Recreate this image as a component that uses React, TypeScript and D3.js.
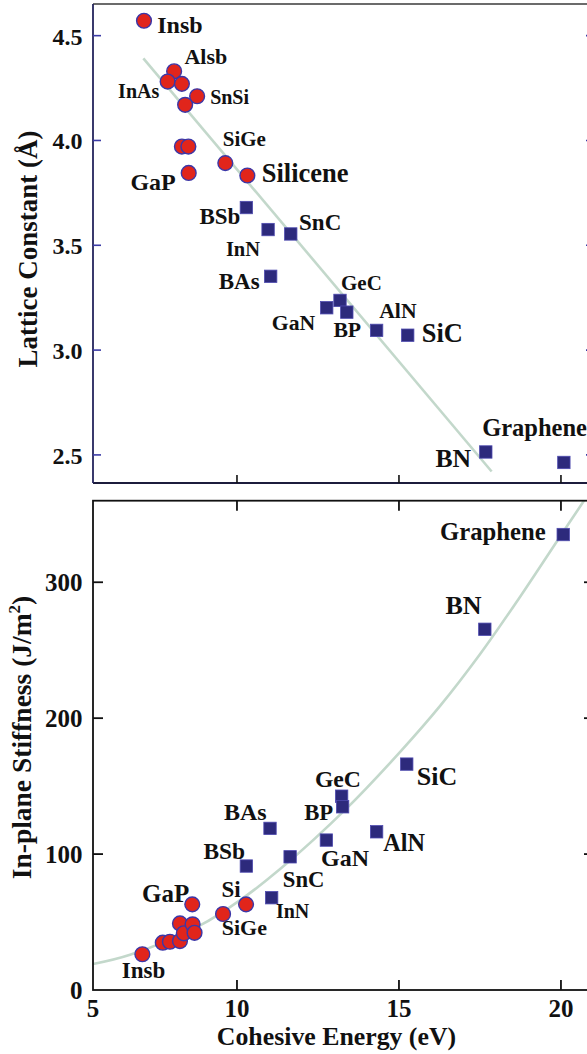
import React from "react";
import * as d3 from "d3";

// ---- data: 2D honeycomb materials ----
// Lattice constant panel (circles = buckled, squares = planar)
const topCircleNames = ["Insb", "Alsb", "InAs", "", "SnSi", "", "", "", "GaP", "SiGe", "Silicene"];
const topCircleEnergy = [7.13, 8.06, 7.86, 8.3, 8.77, 8.4, 8.3, 8.5, 8.51, 9.64, 10.32];
const topCircleLattice = [4.571, 4.33, 4.281, 4.27, 4.211, 4.17, 3.971, 3.971, 3.845, 3.892, 3.833];

const topSquareNames = ["BSb", "InN", "SnC", "BAs", "GaN", "GeC", "BP", "AlN", "SiC", "BN", "Graphene"];
const topSquareEnergy = [10.29, 10.96, 11.66, 11.04, 12.77, 13.18, 13.39, 14.31, 15.27, 17.68, 20.09];
const topSquareLattice = [3.68, 3.575, 3.554, 3.352, 3.202, 3.237, 3.181, 3.094, 3.071, 2.514, 2.464];

// linear fit of lattice constant vs cohesive energy
const latticeFitEnergy = [7.11, 17.86];
const latticeFitValue = [4.392, 2.421];

// In-plane stiffness panel
const botCircleNames = ["Insb", "", "", "", "", "", "GaP", "", "", "SiGe", "Si"];
const botCircleEnergy = [7.08, 7.71, 7.93, 8.24, 8.24, 8.36, 8.62, 8.63, 8.69, 9.57, 10.28];
const botCircleStiffness = [26.3, 34.8, 35.5, 49.0, 36.0, 41.7, 63.0, 48.3, 42.1, 55.9, 63.0];

const botSquareNames = ["BAs", "BSb", "SnC", "InN", "GaN", "GeC", "BP", "AlN", "SiC", "BN", "Graphene"];
const botSquareEnergy = [11.02, 10.29, 11.64, 11.07, 12.76, 13.23, 13.26, 14.31, 15.24, 17.65, 20.07];
const botSquareStiffness = [118.9, 91.2, 98.0, 67.9, 110.3, 142.6, 134.8, 116.4, 166.2, 265.4, 335.1];

// fitted trend of stiffness vs cohesive energy
const stiffFitEnergy = [5.56, 6.7, 8.86, 10.09, 11.36, 13.4, 15.03, 16.27, 17.5, 18.73, 19.97, 20.74];
const stiffFitValue = [19.1, 25.9, 47.5, 66, 89.5, 134, 175, 209, 247, 289, 333.5, 361];

// axis ticks
const energyTicks = [5, 10, 15, 20];
const latticeTicks = [2.5, 3.0, 3.5, 4.0, 4.5];
const stiffTicks = [0, 100, 200, 300];

// ---- label layout (offsets from the marker, font size) ----
type LabelPos = { dx: number; dy: number; size: number; anchor?: string };
const topLabelLayout: Record<string, LabelPos> = {
  Insb: { dx: 13.3, dy: 12.6, size: 24 },
  Alsb: { dx: 10.3, dy: -7, size: 22 },
  InAs: { dx: -8.4, dy: 16.6, size: 20, anchor: "end" },
  SnSi: { dx: 13, dy: 7.7, size: 20 },
  SiGe: { dx: -2.6, dy: -17.3, size: 21 },
  GaP: { dx: -13, dy: 16.7, size: 24, anchor: "end" },
  Silicene: { dx: 14.4, dy: 6.3, size: 26.5 },
  BSb: { dx: -6, dy: 16.3, size: 23, anchor: "end" },
  InN: { dx: -8, dy: 26, size: 20.5, anchor: "end" },
  SnC: { dx: 8.3, dy: -4.3, size: 23 },
  BAs: { dx: -11, dy: 12.3, size: 23, anchor: "end" },
  GaN: { dx: -11.5, dy: 22.7, size: 21.7, anchor: "end" },
  GeC: { dx: 1, dy: -10, size: 21 },
  BP: { dx: -13.4, dy: 24.6, size: 21.7 },
  AlN: { dx: 2.6, dy: -12, size: 21.7 },
  SiC: { dx: 14, dy: 7, size: 26.4 },
  BN: { dx: -14.7, dy: 14.6, size: 25.7, anchor: "end" },
  Graphene: { dx: -81.7, dy: -26, size: 24.5 },
};
const botLabelLayout: Record<string, LabelPos> = {
  Insb: { dx: -20.6, dy: 24, size: 23 },
  GaP: { dx: -3, dy: -2.6, size: 25, anchor: "end" },
  Si: { dx: -5.3, dy: -7, size: 23, anchor: "end" },
  SiGe: { dx: -1.3, dy: 21, size: 22 },
  BSb: { dx: -1.3, dy: -6.7, size: 23.4, anchor: "end" },
  BAs: { dx: -3.3, dy: -8.3, size: 24, anchor: "end" },
  InN: { dx: 4.3, dy: 20.6, size: 20 },
  SnC: { dx: -7.3, dy: 30, size: 22.7 },
  GaN: { dx: -5.3, dy: 26, size: 24 },
  GeC: { dx: -26.7, dy: -9.3, size: 23.7 },
  BP: { dx: -9.4, dy: 13.3, size: 22.7, anchor: "end" },
  AlN: { dx: 6.6, dy: 19.3, size: 24.2 },
  SiC: { dx: 10, dy: 21, size: 26 },
  BN: { dx: -39.3, dy: -15.7, size: 26 },
  Graphene: { dx: -17.6, dy: 5.7, size: 24.7, anchor: "end" },
};

// ---- geometry ----
const W = 587;
const H = 1054;
const LEFT = 93;
const RIGHT = 594;
const TOP_Y0 = 4;
const TOP_Y1 = 483;
const BOT_Y0 = 500.7;
const BOT_Y1 = 990;

const FONT = "'Liberation Serif', 'Times New Roman', Times, serif";
const RED = "#e1251b";
const RING = "#3b37a8";
const NAVY = "#2d2a7c";
const FIT = "#c3d8cb";

const x = d3.scaleLinear().domain([5.556, 21.02]).range([LEFT, RIGHT]).clamp(true);
const yTop = d3.scaleLinear().domain([2.366, 4.651]).range([TOP_Y1, TOP_Y0]);
const yBot = d3.scaleLinear().domain([0, 360]).range([BOT_Y1, BOT_Y0]);

function Labels({
  names,
  xs,
  ys,
  layout,
}: {
  names: string[];
  xs: number[];
  ys: number[];
  layout: Record<string, LabelPos>;
}) {
  return (
    <g>
      {names.map((n, i) => {
        if (!n) return null;
        const l = layout[n];
        if (!l) return null;
        return (
          <text
            key={n + i}
            x={xs[i] + l.dx}
            y={ys[i] + l.dy}
            fontSize={l.size}
            fontWeight="bold"
            fontFamily={FONT}
            fill="#111"
            textAnchor={l.anchor || "start"}
          >
            {n}
          </text>
        );
      })}
    </g>
  );
}

function Circles({ xs, ys }: { xs: number[]; ys: number[] }) {
  return (
    <g>
      {xs.map((cx, i) => (
        <circle key={i} cx={cx} cy={ys[i]} r={7.4} fill={RED} stroke={RING} strokeWidth={1.4} />
      ))}
    </g>
  );
}

function Squares({ xs, ys }: { xs: number[]; ys: number[] }) {
  const s = 12.4;
  return (
    <g>
      {xs.map((cx, i) => (
        <rect
          key={i}
          x={cx - s / 2}
          y={ys[i] - s / 2}
          width={s}
          height={s}
          fill={NAVY}
          stroke="#4f4bb0"
          strokeWidth={0.8}
        />
      ))}
    </g>
  );
}

export default function App() {
  // lattice constant panel
  const tcx = topCircleEnergy.map((v) => x(v));
  const tcy = topCircleLattice.map((v) => yTop(v));
  const tsx = topSquareEnergy.map((v) => x(v));
  const tsy = topSquareLattice.map((v) => yTop(v));
  const latticeLine = d3
    .line<number>()
    .x((v) => x(v))
    .y((_, i) => yTop(latticeFitValue[i]))(latticeFitEnergy);

  // stiffness panel
  const bcx = botCircleEnergy.map((v) => x(v));
  const bcy = botCircleStiffness.map((v) => yBot(v));
  const bsx = botSquareEnergy.map((v) => x(v));
  const bsy = botSquareStiffness.map((v) => yBot(v));
  const stiffLine = d3
    .line<number>()
    .x((v) => x(v))
    .y((_, i) => yBot(stiffFitValue[i]))
    .curve(d3.curveCatmullRom.alpha(0.5))(stiffFitEnergy);

  const innerX = energyTicks.filter((t) => x(t) > LEFT + 1 && x(t) < RIGHT - 1);

  return (
    <svg
      width={W}
      height={H}
      viewBox={`0 0 ${W} ${H}`}
      style={{ position: "absolute", left: 0, top: 0, background: "#fff" }}
    >
      <rect x={0} y={0} width={W} height={H} fill="#fff" />

      {/* ===== Lattice constant panel ===== */}
      <g>
        <line x1={LEFT} x2={RIGHT} y1={TOP_Y0} y2={TOP_Y0} stroke="#3a3a3a" strokeWidth={1.6} />
        <line x1={LEFT} x2={RIGHT} y1={TOP_Y1} y2={TOP_Y1} stroke="#1c1c3c" strokeWidth={1.8} />
        <line x1={LEFT} x2={LEFT} y1={TOP_Y0} y2={TOP_Y1} stroke="#24245c" strokeWidth={1.8} />
        <line x1={RIGHT} x2={RIGHT} y1={TOP_Y0} y2={TOP_Y1} stroke="#24245c" strokeWidth={1.8} />
        {latticeTicks.map((t) => (
          <g key={t}>
            <line x1={LEFT} x2={LEFT + 8} y1={yTop(t)} y2={yTop(t)} stroke="#3b3ba6" strokeWidth={1.6} />
            <line x1={RIGHT - 8} x2={RIGHT} y1={yTop(t)} y2={yTop(t)} stroke="#3b3ba6" strokeWidth={1.6} />
            <text
              x={82.5}
              y={yTop(t) + 9}
              textAnchor="end"
              fontSize={24}
              fontWeight="bold"
              fontFamily={FONT}
              fill="#111"
            >
              {d3.format(".1f")(t)}
            </text>
          </g>
        ))}
        {innerX.map((t) => (
          <line key={t} x1={x(t)} x2={x(t)} y1={TOP_Y1} y2={TOP_Y1 - 8} stroke="#111" strokeWidth={1.6} />
        ))}
        <text
          transform={`translate(37,249) rotate(-90)`}
          textAnchor="middle"
          fontSize={27}
          fontWeight="bold"
          fontFamily={FONT}
          fill="#111"
        >
          Lattice Constant (Å)
        </text>

        <path d={latticeLine || ""} fill="none" stroke={FIT} strokeWidth={2.6} />
        <Circles xs={tcx} ys={tcy} />
        <Squares xs={tsx} ys={tsy} />
        <Labels names={topCircleNames} xs={tcx} ys={tcy} layout={topLabelLayout} />
        <Labels names={topSquareNames} xs={tsx} ys={tsy} layout={topLabelLayout} />
      </g>

      {/* ===== In-plane stiffness panel ===== */}
      <g>
        <defs>
          <clipPath id="stiff-clip">
            <rect x={LEFT} y={BOT_Y0} width={RIGHT - LEFT} height={BOT_Y1 - BOT_Y0} />
          </clipPath>
        </defs>
        <path
          d={stiffLine || ""}
          fill="none"
          stroke={FIT}
          strokeWidth={2.6}
          clipPath="url(#stiff-clip)"
        />
        <rect
          x={LEFT}
          y={BOT_Y0}
          width={RIGHT - LEFT}
          height={BOT_Y1 - BOT_Y0}
          fill="none"
          stroke="#111"
          strokeWidth={1.8}
        />
        {stiffTicks.map((t) => (
          <g key={t}>
            {t > 0 && (
              <>
                <line x1={LEFT} x2={LEFT + 10} y1={yBot(t)} y2={yBot(t)} stroke="#111" strokeWidth={1.8} />
                <line x1={RIGHT - 10} x2={RIGHT} y1={yBot(t)} y2={yBot(t)} stroke="#111" strokeWidth={1.8} />
              </>
            )}
            <text
              x={82.5}
              y={yBot(t) + 8.5}
              textAnchor="end"
              fontSize={25}
              fontWeight="bold"
              fontFamily={FONT}
              fill="#111"
            >
              {t}
            </text>
          </g>
        ))}
        {innerX.map((t) => (
          <g key={t}>
            <line x1={x(t)} x2={x(t)} y1={BOT_Y1} y2={BOT_Y1 - 10} stroke="#111" strokeWidth={1.8} />
            <line x1={x(t)} x2={x(t)} y1={BOT_Y0} y2={BOT_Y0 + 10} stroke="#111" strokeWidth={1.8} />
          </g>
        ))}
        {energyTicks.map((t) => (
          <text
            key={t}
            x={x(t)}
            y={1017}
            textAnchor="middle"
            fontSize={25}
            fontWeight="bold"
            fontFamily={FONT}
            fill="#111"
          >
            {t}
          </text>
        ))}
        <text
          x={336.5}
          y={1045}
          textAnchor="middle"
          fontSize={25.8}
          fontWeight="bold"
          fontFamily={FONT}
          fill="#111"
        >
          Cohesive Energy (eV)
        </text>
        <text
          transform={`translate(31,737.5) rotate(-90)`}
          textAnchor="middle"
          fontSize={27.5}
          fontWeight="bold"
          fontFamily={FONT}
          fill="#111"
        >
          In-plane Stiffness (J/m
          <tspan fontSize={17} dy={-11}>
            2
          </tspan>
          <tspan dy={11}>)</tspan>
        </text>

        <Circles xs={bcx} ys={bcy} />
        <Squares xs={bsx} ys={bsy} />
        <Labels names={botCircleNames} xs={bcx} ys={bcy} layout={botLabelLayout} />
        <Labels names={botSquareNames} xs={bsx} ys={bsy} layout={botLabelLayout} />
      </g>
    </svg>
  );
}
